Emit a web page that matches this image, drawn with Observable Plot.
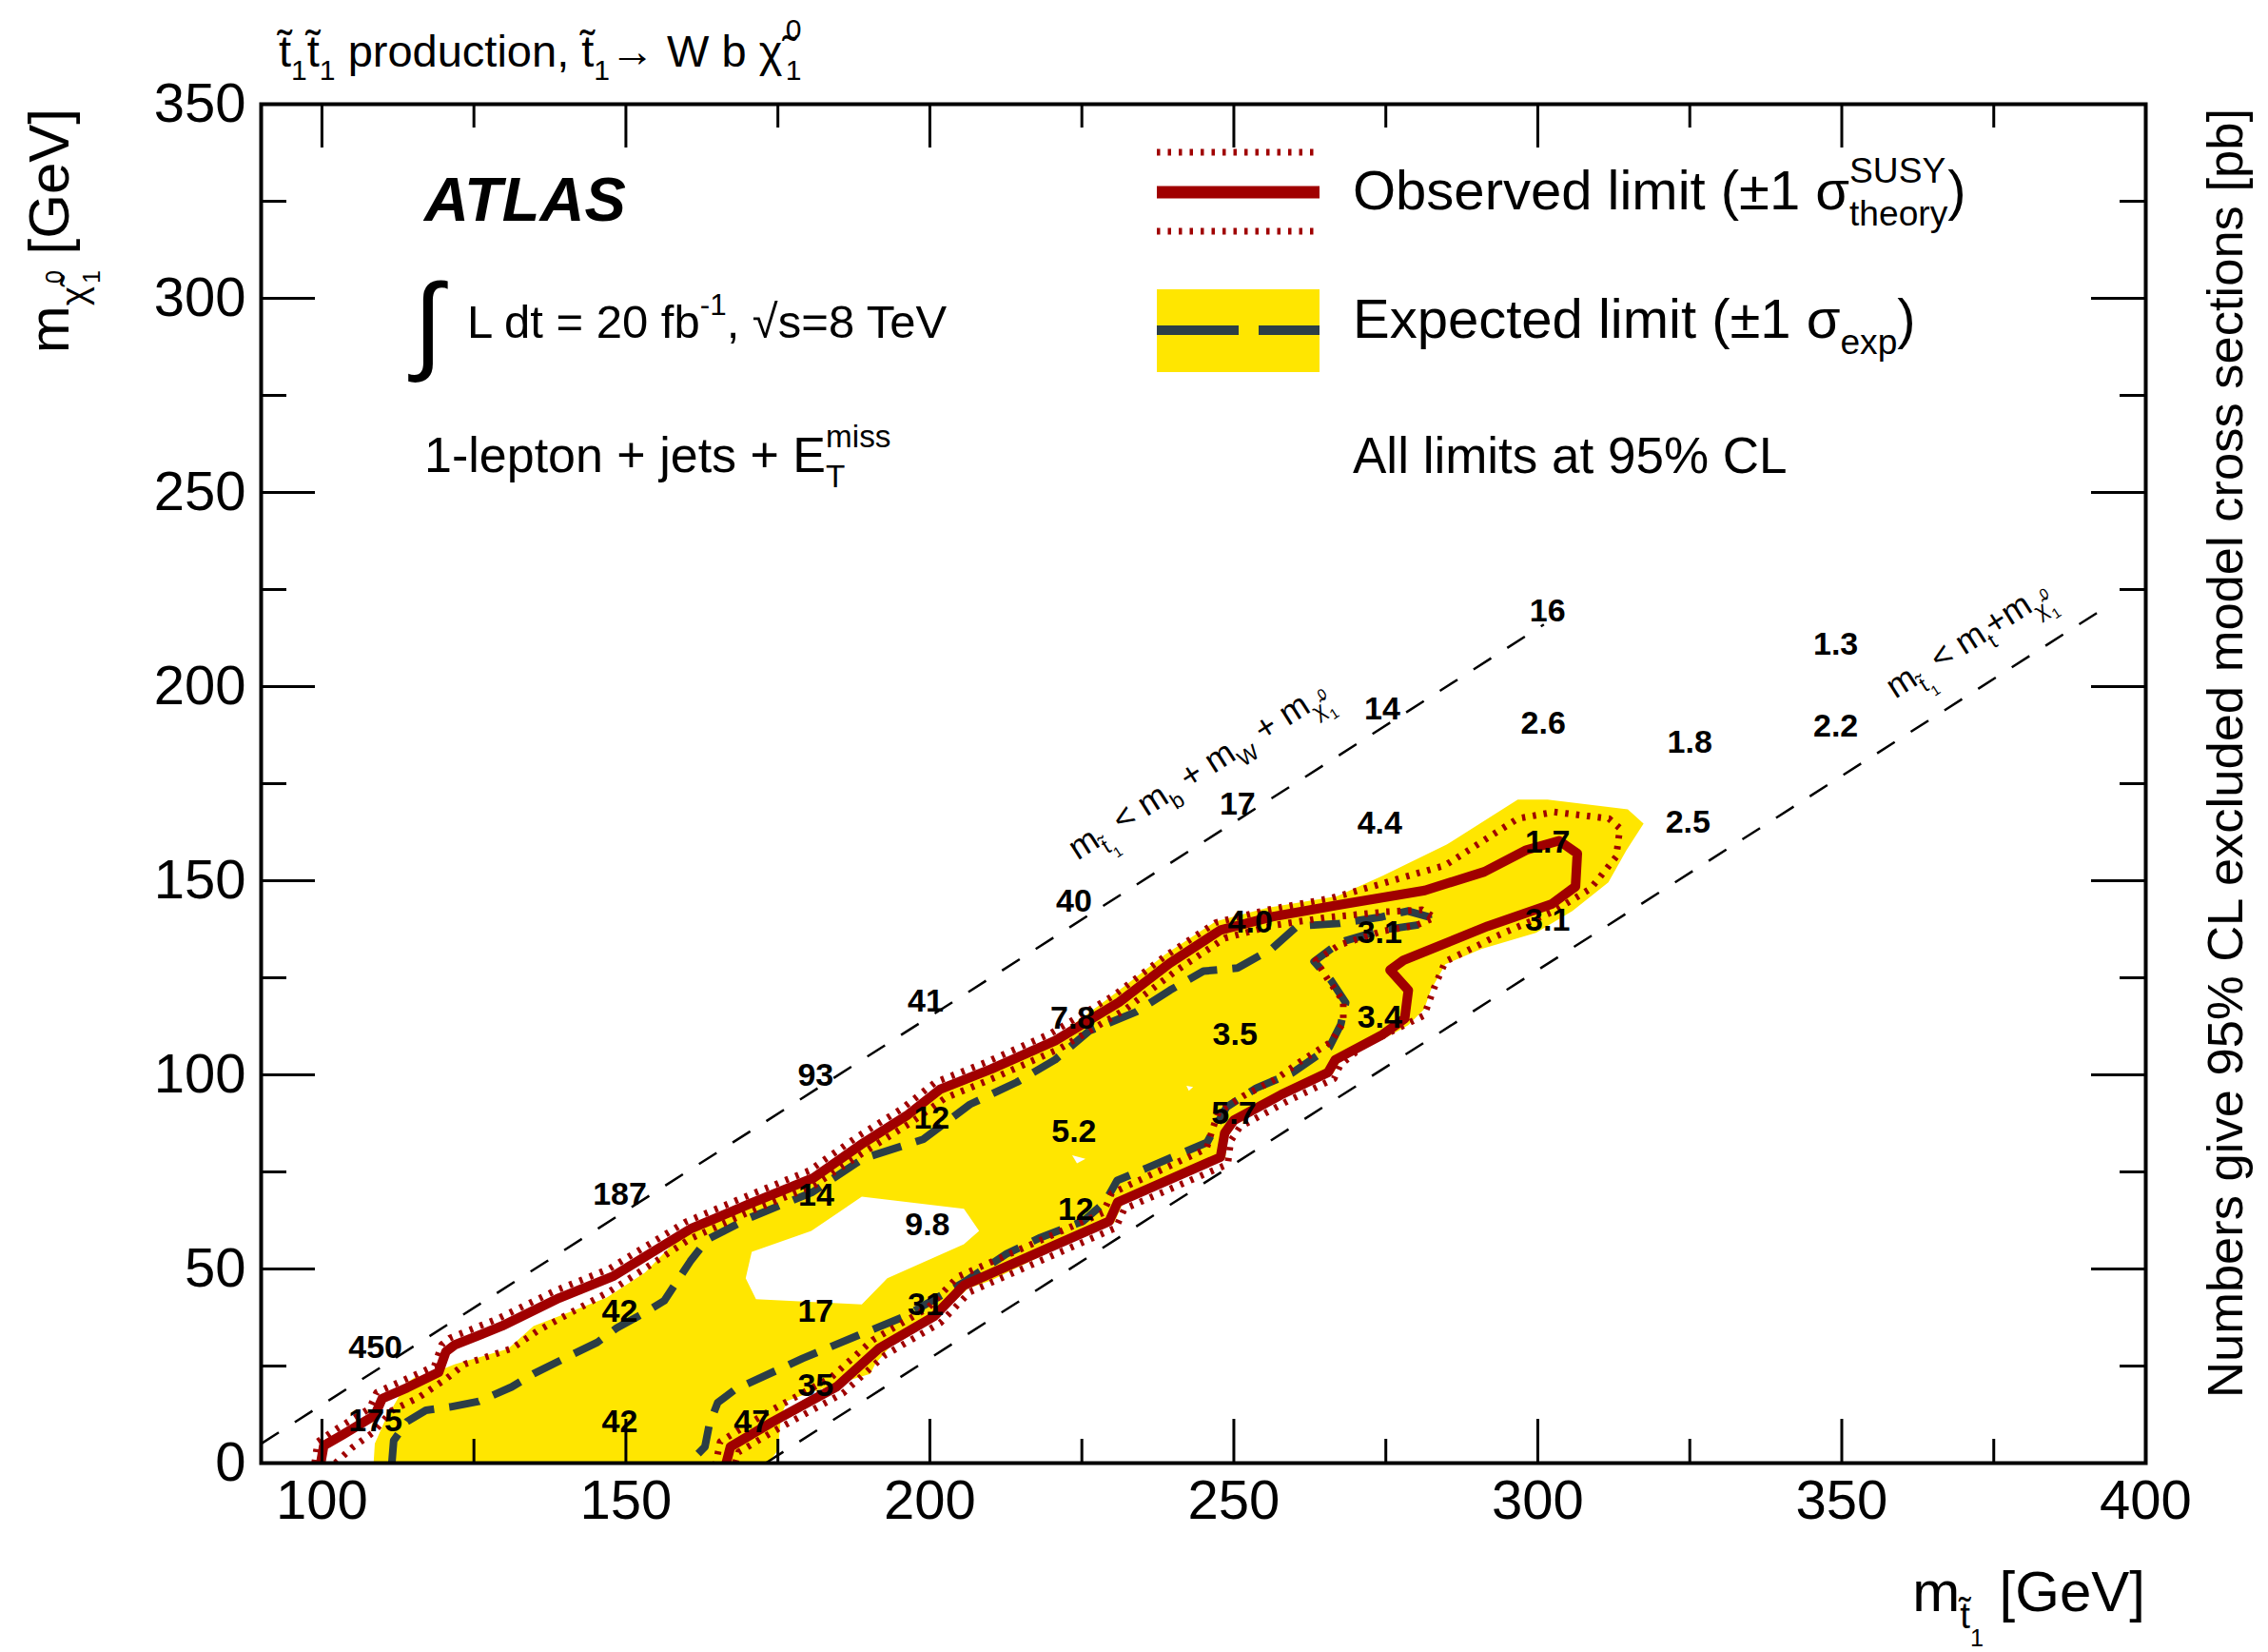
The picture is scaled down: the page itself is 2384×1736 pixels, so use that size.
<!DOCTYPE html>
<html>
<head>
<meta charset="utf-8">
<script src="https://cdn.jsdelivr.net/npm/d3@7"></script>
<script src="https://cdn.jsdelivr.net/npm/@observablehq/plot@0.6"></script>
<style>
  html, body { margin: 0; padding: 0; background: #fff; }
  svg { display: block; }
</style>
</head>
<body>
<div id="chart"></div>
<script>
// ---------------- axis ticks ----------------
const xTicks = [100, 150, 200, 250, 300, 350, 400];
const xMinorTicks = [125, 175, 225, 275, 325, 375];
const yTicks = [0, 50, 100, 150, 200, 250, 300, 350];
const yMinorTicks = [25, 75, 125, 175, 225, 275, 325];
const xTickLabels = ["100", "150", "200", "250", "300", "350", "400"];
const yTickLabels = ["0", "50", "100", "150", "200", "250", "300", "350"];

// ---------------- exclusion contours: [m(stop), m(LSP)] in GeV ----------------
const observed = [
  [99.8,0],[100.3,4.5],[103.5,7.4],[108.7,12.3],[109.9,16.6],[114,19.4],[119.2,23.4],[120.4,28.7],
  [121.8,30.4],[129.6,35.3],[139,42.5],[148,48.2],[153.8,53.8],[160.6,60.3],[170.4,66.8],[180.9,73.5],
  [189.1,82.5],[196.2,89.5],[201.7,96.3],[210.1,101.5],[220.6,108.8],[231.1,118.7],[239.5,128.8],
  [247.8,137.3],[256.3,140.7],[267.4,143.8],[281.4,147.5],[291.2,152.3],[298.1,157.9],[303.5,160.3],
  [306.5,157],[306.2,148.5],[302.3,144],[291.8,138.3],[277.9,129.5],[275.7,127],[278.7,121.8],
  [278.1,114.5],[274.5,110.4],[266.7,103.9],[265.5,100.6],[257.8,94.9],[250,88.3],[248.5,85],
  [247.8,78.8],[230.9,67.2],[229.5,62.3],[219.8,55.6],[205.6,45.8],[200.7,37.8],[191.6,29.5],
  [184.7,19.7],[174.2,10.7],[167.2,4.2],[166.5,0]
];
// observed limit, +1 sigma(theory)
const observedUp = [
  [98.8,0],[99.3,5.5],[102.6,9],[107.8,14],[109,18.2],[113.2,21.2],[118.5,25],[119.7,30.5],[121,32.2],
  [128.8,37.1],[138.2,44.3],[147.2,50],[153,55.6],[159.8,62.1],[169.6,68.6],[180.1,75.3],[188.3,84.3],
  [195.4,91.3],[200.9,98.1],[209.3,103.3],[219.8,110.6],[230.3,120.5],[238.7,130.6],[247,139.2],
  [255.5,142.5],[266,145.5],[272.7,148.5],[284.8,154],[296.7,166],[302.7,167.7],[311.7,166],
  [313.5,163.5],[312.9,156.2],[308.7,148],[302.7,142.2],[293.3,135.8],[284.8,129.2],[283,122.6],
  [281.3,115.3],[277,112],[271.6,107.9],[267.5,102.5],[266.5,99],[258.8,93.2],[251,86.6],[249.5,83],
  [249,77],[232,65.5],[230.6,60.6],[220.8,53.9],[206.6,44.1],[201.7,36.1],[192.6,27.8],[185.7,18],
  [175.2,9],[168.5,2.8],[168,0]
];
// observed limit, -1 sigma(theory)
const observedDown = [
  [102.2,0],[105,4],[108.5,8],[111.5,13.5],[116,17],[120.5,21.8],[123.5,25.5],[131.2,29.5],[135.4,34],
  [147.3,44.2],[153,50],[160.6,57.8],[170.4,64.8],[180.9,71.5],[189.6,80.5],[196.7,87.5],[202.5,94],
  [211,99.5],[221.4,106.8],[232,116.7],[240.5,126.8],[248.5,135.2],[256.5,138.5],[265,140.5],
  [275,142],[281,142.5],[283,140.5],[280,138.5],[274.4,137],[267.4,133.5],[263.5,129.5],[265.5,124.5],
  [268,119],[268,113.5],[266,108.5],[261,103.5],[257,99],[251.5,94.5],[247.5,90.5],[246.5,86],
  [245.5,81],[229.9,69.5],[228.5,64.5],[218.8,57.8],[204.6,48],[199.7,40],[190.6,31.7],[183.7,22],
  [173.2,13],[165.5,5.5],[164.8,0]
];
// expected limit
const expected = [
  [111.5,0],[111.8,5.8],[114,10.7],[117.1,13.6],[121.2,14.5],[125.8,15.9],[131.2,19.6],[134.8,23],
  [141.1,27.9],[145.3,31.1],[148.5,34.8],[153.6,39.2],[156.3,41.8],[160.6,52],[163.4,57.6],[170.1,63],
  [180.7,69.8],[189.1,78.5],[198.9,83.4],[206.6,92.4],[214.3,98.1],[220.6,103.9],[226.2,111.3],
  [233.9,116.2],[239.5,121.8],[245,126.7],[250.6,127.5],[256.2,132.4],[260.4,138.3],[267.4,139],
  [274.4,140.7],[278.6,142.2],[282,140.7],[282,139],[274.4,137.3],[267.4,134.1],[263.2,129.2],
  [266,124.3],[268.4,118.6],[267.6,113],[265.7,107.1],[259.6,100.5],[253.7,96.6],[248.8,91.7],
  [246.6,85.5],[245.6,82.6],[235.7,76],[230.8,72.8],[228.8,67.2],[225.2,62.3],[218.2,58.1],
  [212.6,53.9],[205.6,46.6],[195.9,37.8],[188.2,32.9],[179.1,27],[167.9,18.9],[165.1,15.6],
  [163.7,9.8],[163,4.2],[161,1],[160.8,0]
];
// expected +-1 sigma(exp) band: outer edge and the islands left open inside it
const expectedBand = [
  [108.5,0],[108.7,5],[110.3,10.7],[112.4,16.4],[113.8,20.5],[115.5,22.3],[117.5,22.5],[119.2,23.8],
  [121.8,25.4],[130.6,29.4],[134.8,35.3],[146.8,42.6],[153.1,49],[157.2,55.6],[160.6,60.3],[170.4,66.8],
  [180.9,73.5],[189.1,82.5],[196.2,89.5],[201.7,96.3],[210.1,101.5],[220.6,109.5],[230.5,121],
  [238.7,131],[247,139.5],[255.5,143],[267,146],[274.5,151.3],[285,159.3],[296.7,170.9],[301.6,170.9],
  [314.8,168.4],[317.4,164.7],[314.6,157.9],[311.6,149.6],[305.7,142.2],[299.7,136.6],[290.7,132.4],
  [284.8,128.5],[282.4,121.8],[281.3,116.9],[278.7,112.8],[275.5,110],[267.5,103.5],[266.3,100.3],
  [258.5,94.5],[250.7,88],[249,84],[248.6,78.5],[231.7,66.8],[230.3,61.8],[220.6,55.1],[210,47],
  [206.3,45],[201.5,38],[194.5,32],[191,25.5],[190.2,23],[186,21],[180,18],[176.5,16],[175.5,12],
  [175,3.4],[173.5,0]
];
const bandHoleMain = [
  [188.8,68.6],[205.6,65.5],[208.1,59.8],[205.6,56.4],[193,47.6],[188.8,40.9],[171.4,42.2],
  [169.7,47.6],[170.7,54.4],[180.5,59.8]
];
const bandHoleSmall = [[223.4,79.3],[225.6,78.4],[224.2,77.2]];
const bandHoleTiny = [[242.2,97.2],[243.3,96.9],[242.6,95.9]];

// kinematic boundaries
const kinematicBW = [[90,5],[301,216]];   // m(stop) = m(b) + m(W) + m(LSP)
const kinematicTop = [[173,0],[393,220]]; // m(stop) = m(t) + m(LSP)

// excluded cross sections [pb] at the signal points
const xsecPoints = [
  {mStop:108.8, mLSP:29.7, xsec:"450"}, {mStop:108.8, mLSP:11, xsec:"175"},
  {mStop:149, mLSP:69.2, xsec:"187"}, {mStop:149, mLSP:39.1, xsec:"42"}, {mStop:149, mLSP:10.6, xsec:"42"},
  {mStop:170.7, mLSP:10.6, xsec:"47"},
  {mStop:181.2, mLSP:99.8, xsec:"93"}, {mStop:181.3, mLSP:68.9, xsec:"14"},
  {mStop:181.2, mLSP:39.1, xsec:"17"}, {mStop:181.2, mLSP:20, xsec:"35"},
  {mStop:199.3, mLSP:119, xsec:"41"}, {mStop:200.3, mLSP:88.7, xsec:"12"},
  {mStop:199.6, mLSP:61.3, xsec:"9.8"}, {mStop:199.3, mLSP:40.9, xsec:"31"},
  {mStop:223.7, mLSP:144.8, xsec:"40"}, {mStop:223.5, mLSP:114.5, xsec:"7.8"},
  {mStop:223.7, mLSP:85.5, xsec:"5.2"}, {mStop:224, mLSP:65.2, xsec:"12"},
  {mStop:250.6, mLSP:169.6, xsec:"17"}, {mStop:252.7, mLSP:139.4, xsec:"4.0"},
  {mStop:250.2, mLSP:110.4, xsec:"3.5"}, {mStop:250, mLSP:90, xsec:"5.7"},
  {mStop:274.4, mLSP:194.2, xsec:"14"}, {mStop:274, mLSP:164.7, xsec:"4.4"},
  {mStop:274, mLSP:136.6, xsec:"3.1"}, {mStop:274, mLSP:114.9, xsec:"3.4"},
  {mStop:301.6, mLSP:219.5, xsec:"16"}, {mStop:300.9, mLSP:190.5, xsec:"2.6"},
  {mStop:301.6, mLSP:159.8, xsec:"1.7"}, {mStop:301.6, mLSP:139.8, xsec:"3.1"},
  {mStop:325, mLSP:185.7, xsec:"1.8"}, {mStop:324.7, mLSP:165.1, xsec:"2.5"},
  {mStop:349, mLSP:210.9, xsec:"1.3"}, {mStop:349, mLSP:189.8, xsec:"2.2"}
];

// ---------------- layout & style ----------------
const FONT = "'Liberation Sans', Arial, Helvetica, sans-serif";
const WIDTH = 2384, HEIGHT = 1736;
const M = {top: 109, right: 129, bottom: 199, left: 274};
const FW = WIDTH - M.left - M.right;
const FH = HEIGHT - M.top - M.bottom;
const RED = "#a00000", YELLOW = "#ffe600", SLATE = "#2c3e46";
const MAJOR_X = 46, MINOR_X = 25, MAJOR_Y = 57, MINOR_Y = 27;

// text with sub/superscripts: parts are [string, baseline shift (em), scale, dx (em)]
function rich(parent, x, y, parts, o = {}) {
  const size = o.size || 58;
  const t = parent.append("text")
    .attr("x", x).attr("y", y)
    .attr("font-size", size)
    .attr("text-anchor", o.anchor || "start");
  if (o.weight) t.attr("font-weight", o.weight);
  if (o.italic) t.attr("font-style", "italic");
  if (o.rotate) t.attr("transform", `rotate(${o.rotate},${x},${y})`);
  let cur = 0;
  for (const p of parts) {
    const [str, shift = 0, scale = 1, dx = 0] = typeof p === "string" ? [p] : p;
    const ts = t.append("tspan").attr("font-size", size * scale).text(str);
    if (shift !== cur) ts.attr("dy", (shift - cur) * size);
    if (dx) ts.attr("dx", dx * size);
    cur = shift;
  }
  return t;
}

// captions, legend and rotated labels
function annotations(index, scales, values, dims) {
  const g = d3.create("svg:g").attr("font-family", FONT).attr("fill", "black");
  const {x, y} = scales;

  // title above the frame
  rich(g, M.left + 19, M.top - 39, [
    ["t\u0303"], ["1", 0.3, 0.64], ["t\u0303", 0], ["1", 0.3, 0.64],
    [" production, t\u0303", 0], ["1", 0.3, 0.64], ["\u2192 W b \u03c7\u0303", 0],
    ["0", -0.62, 0.64, 0.07], ["1", 0.3, 0.64, -0.356]
  ], {size: 47});

  // experiment label
  rich(g, M.left + 172, M.top + 123, [["ATLAS"]], {size: 65, weight: "bold", italic: true});
  g.append("text").attr("x", M.left + 176).attr("y", M.top + 268)
    .attr("font-size", 112).attr("font-style", "italic").text("\u222B");
  rich(g, M.left + 217, M.top + 246, [
    ["L dt = 20 fb"], ["-1", -0.48, 0.64], [", \u221As=8 TeV", 0]
  ], {size: 49});
  rich(g, M.left + 172, M.top + 387, [
    ["1-lepton + jets + E"], ["T", 0.3, 0.64], ["miss", -0.5, 0.64, -0.391]
  ], {size: 52});

  // legend
  const lx0 = M.left + 942, lx1 = M.left + 1113, tx = M.left + 1148;
  const row1 = M.top + 93, row2 = M.top + 238;
  g.append("line").attr("x1", lx0).attr("x2", lx1).attr("y1", row1 - 42).attr("y2", row1 - 42)
    .attr("stroke", RED).attr("stroke-width", 7).attr("stroke-dasharray", "3.5,8");
  g.append("line").attr("x1", lx0).attr("x2", lx1).attr("y1", row1).attr("y2", row1)
    .attr("stroke", RED).attr("stroke-width", 13);
  g.append("line").attr("x1", lx0).attr("x2", lx1).attr("y1", row1 + 41).attr("y2", row1 + 41)
    .attr("stroke", RED).attr("stroke-width", 7).attr("stroke-dasharray", "3.5,8");
  g.append("rect").attr("x", lx0).attr("y", row2 - 43).attr("width", lx1 - lx0).attr("height", 87)
    .attr("fill", YELLOW);
  g.append("line").attr("x1", lx0).attr("x2", lx1).attr("y1", row2).attr("y2", row2)
    .attr("stroke", SLATE).attr("stroke-width", 10).attr("stroke-dasharray", "86,21");
  rich(g, tx, row1 + 18, [
    ["Observed limit (\u00b11 \u03c3"], ["SUSY", -0.48, 0.64], ["theory", 0.3, 0.64, -1.743], [")", 0]
  ], {size: 58});
  rich(g, tx, row2 + 8, [
    ["Expected limit (\u00b11 \u03c3"], ["exp", 0.3, 0.64], [")", 0]
  ], {size: 58});
  rich(g, tx, M.top + 388, [["All limits at 95% CL"]], {size: 53});

  // labels along the kinematic boundaries
  const ang = -Math.atan2(y(0) - y(100), x(100) - x(0)) * 180 / Math.PI;
  rich(g, x(224.4), y(155), [
    ["m"], ["t\u0303", 0.3, 0.64], ["1", 0.55, 0.42], [" < m", 0], ["b", 0.3, 0.64],
    [" + m", 0], ["W", 0.3, 0.64], [" + m", 0], ["\u03c7\u0303", 0.3, 0.64],
    ["0", -0.12, 0.42, 0.05], ["1", 0.55, 0.42, -0.234]
  ], {size: 36, rotate: ang});
  rich(g, x(358.9), y(196.6), [
    ["m"], ["t\u0303", 0.3, 0.64], ["1", 0.55, 0.42], [" < m", 0], ["t", 0.3, 0.64],
    ["+m", 0], ["\u03c7\u0303", 0.3, 0.64], ["0", -0.12, 0.42, 0.05], ["1", 0.55, 0.42, -0.234]
  ], {size: 36, rotate: ang});

  // axis titles
  rich(g, WIDTH - M.right, M.top + FH + 156, [
    ["m"], ["t\u0303", 0.3, 0.64], ["1", 0.62, 0.42], [" [GeV]", 0]
  ], {size: 60, anchor: "end"});
  rich(g, 72, M.top + 5, [
    ["m"], ["\u03c7\u0303", 0.32, 0.64], ["0", -0.1, 0.42, 0.05], ["1", 0.55, 0.42, -0.234], [" [GeV]", 0]
  ], {size: 60, anchor: "end", rotate: -90});
  rich(g, WIDTH - 27, M.top + 5, [["Numbers give 95% CL excluded model cross sections [pb]"]],
    {size: 52.5, anchor: "end", rotate: -90});

  return g.node();
}

const chart = Plot.plot({
  width: WIDTH,
  height: HEIGHT,
  marginTop: M.top, marginRight: M.right, marginBottom: M.bottom, marginLeft: M.left,
  style: {fontFamily: FONT, background: "white", color: "black", overflow: "visible"},
  x: {domain: [90, 400], axis: null},
  y: {domain: [0, 350], axis: null},
  marks: [
    // expected +-1 sigma band
    Plot.line(expectedBand, {fill: YELLOW, stroke: "none", curve: "linear-closed"}),
    Plot.line(bandHoleMain, {fill: "white", stroke: "none", curve: "linear-closed"}),
    Plot.line(bandHoleSmall, {fill: "white", stroke: "none", curve: "linear-closed"}),
    Plot.line(bandHoleTiny, {fill: "white", stroke: "none", curve: "linear-closed"}),
    // kinematic limits
    Plot.line(kinematicBW, {stroke: "black", strokeWidth: 2.5, strokeDasharray: "22,20", strokeLinecap: "butt"}),
    Plot.line(kinematicTop, {stroke: "black", strokeWidth: 2.5, strokeDasharray: "22,20", strokeLinecap: "butt"}),
    // expected limit
    Plot.line(expected, {stroke: SLATE, strokeWidth: 8, strokeDasharray: "32,16", strokeLinecap: "butt", clip: true}),
    // observed limit and its theory variations
    Plot.line(observedUp, {stroke: RED, strokeWidth: 7, strokeDasharray: "3.5,8", strokeLinecap: "butt", clip: true}),
    Plot.line(observedDown, {stroke: RED, strokeWidth: 7, strokeDasharray: "3.5,8", strokeLinecap: "butt", clip: true}),
    Plot.line(observed, {stroke: RED, strokeWidth: 10, strokeLinejoin: "round", clip: true}),
    // excluded cross sections
    Plot.text(xsecPoints, {x: "mStop", y: "mLSP", text: "xsec", fontSize: 34, fontWeight: "bold", fill: "black"}),
    // frame and inward ticks on all four sides
    Plot.frame({stroke: "black", strokeWidth: 4}),
    Plot.tickX(xTicks, {x: d => d, insetTop: FH - MAJOR_X, stroke: "black", strokeWidth: 3}),
    Plot.tickX(xMinorTicks, {x: d => d, insetTop: FH - MINOR_X, stroke: "black", strokeWidth: 3}),
    Plot.tickX(xTicks, {x: d => d, insetBottom: FH - MAJOR_X, stroke: "black", strokeWidth: 3}),
    Plot.tickX(xMinorTicks, {x: d => d, insetBottom: FH - MINOR_X, stroke: "black", strokeWidth: 3}),
    Plot.tickY(yTicks, {y: d => d, insetRight: FW - MAJOR_Y, stroke: "black", strokeWidth: 3}),
    Plot.tickY(yMinorTicks, {y: d => d, insetRight: FW - MINOR_Y, stroke: "black", strokeWidth: 3}),
    Plot.tickY(yTicks, {y: d => d, insetLeft: FW - MAJOR_Y, stroke: "black", strokeWidth: 3}),
    Plot.tickY(yMinorTicks, {y: d => d, insetLeft: FW - MINOR_Y, stroke: "black", strokeWidth: 3}),
    // tick labels
    Plot.text(xTicks, {x: d => d, frameAnchor: "bottom", text: (d, i) => xTickLabels[i],
      lineAnchor: "top", dy: 17, fontSize: 58, fill: "black"}),
    Plot.text(yTicks, {y: d => d, frameAnchor: "left", text: (d, i) => yTickLabels[i],
      textAnchor: "end", dx: -16, fontSize: 58, fill: "black"}),
    annotations
  ]
});
document.getElementById("chart").appendChild(chart);
</script>
</body>
</html>
